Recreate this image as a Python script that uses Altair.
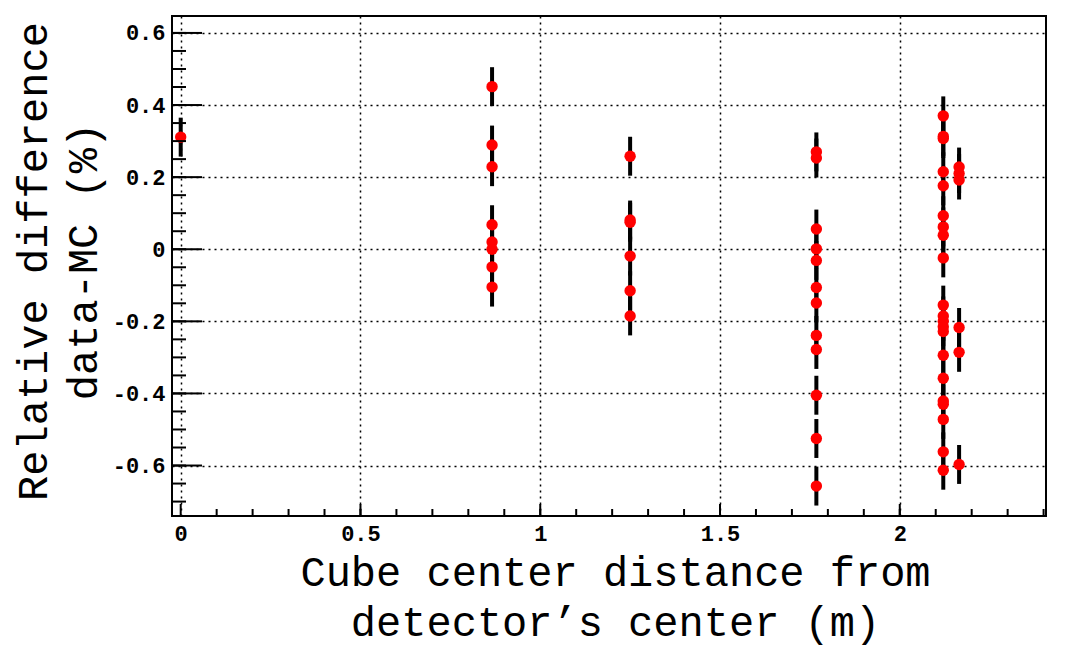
import altair as alt
import pandas as pd

# Cube centre distances (m) and the relative data-MC differences (%) measured at each
dist_0 = [0.311]
dist_0866 = [0.451, 0.289, 0.229, 0.068, 0.020, 0.000, -0.049, -0.105]
dist_125 = [0.258, 0.081, 0.075, -0.019, -0.115, -0.185]
dist_1768 = [0.270, 0.253, 0.056, 0.001, -0.031, -0.106, -0.149, -0.239,
             -0.278, -0.405, -0.525, -0.657]
dist_2121 = [0.370, 0.313, 0.307, 0.215, 0.176, 0.093, 0.062, 0.039, -0.024,
             -0.155, -0.185, -0.200, -0.215, -0.228, -0.294, -0.358, -0.421,
             -0.430, -0.472, -0.562, -0.613]
dist_2165 = [0.228, 0.210, 0.192, -0.217, -0.286, -0.597]

distances = [0.0, 0.866, 1.25, 1.768, 2.121, 2.165]
differences = [dist_0, dist_0866, dist_125, dist_1768, dist_2121, dist_2165]
uncertainty = 0.054  # statistical error on each difference (%)

x_labels = [0, 0.5, 1, 1.5, 2]
y_labels = [-0.6, -0.4, -0.2, 0, 0.2, 0.4, 0.6]
x_minor = [round(0.1 * i, 2) for i in range(1, 25)]
y_minor = [round(-0.70 + 0.05 * i, 2) for i in range(27)]

rows = []
for d, vals in zip(distances, differences):
    for v in vals:
        rows.append({"dist": d, "diff": v, "err": uncertainty})
df = pd.DataFrame(rows)

MONO = "Courier New, Liberation Mono, monospace"
xscale = alt.Scale(domain=[-0.0242, 2.4067], nice=False, zero=False)
yscale = alt.Scale(domain=[-0.740, 0.647], nice=False, zero=False)

xaxis = alt.Axis(
    values=x_labels, labelExpr="format(datum.value, '~g')",
    grid=True, gridDash=[2, 4], gridColor="black", gridWidth=1.5, gridOpacity=1,
    ticks=False, tickSize=0, domain=False, labelFlush=False,
    labelFont=MONO, labelFontSize=22, labelFontWeight="bold", labelColor="black",
    labelPadding=7,
    title=["Cube center distance from", "detector\u2019s center (m)"],
    titleFont=MONO, titleFontSize=42, titleFontWeight="normal", titleColor="black",
    titleLineHeight=50, titleX=443, titleY=69, titleAlign="center",
    titleBaseline="alphabetic",
)
yaxis = alt.Axis(
    values=y_labels,
    labelExpr="datum.value == 0 ? '0' : (datum.value < 0 ? '-' + format(-datum.value, '.1f') : format(datum.value, '.1f'))",
    grid=True, gridDash=[2, 4], gridColor="black", gridWidth=1.5, gridOpacity=1,
    ticks=False, tickSize=0, domain=False, labelFlush=False,
    labelFont=MONO, labelFontSize=22, labelFontWeight="bold", labelColor="black",
    labelPadding=7,
    title=["Relative difference", "data-MC (%)"],
    titleFont=MONO, titleFontSize=42, titleFontWeight="normal", titleColor="black",
    titleLineHeight=50, titleX=-139, titleY=245, titleAlign="center",
    titleBaseline="middle", titleAngle=-90,
)

base = alt.Chart(df)

errbars = base.mark_rule(color="black", strokeWidth=4).transform_calculate(
    lo="datum.diff - datum.err", hi="datum.diff + datum.err"
).encode(
    x=alt.X("dist:Q", scale=xscale, axis=xaxis),
    y=alt.Y("lo:Q", scale=yscale, axis=yaxis),
    y2="hi:Q",
)

points = base.mark_circle(color="#ff0000", size=130, opacity=1).encode(
    x=alt.X("dist:Q", scale=xscale, axis=xaxis),
    y=alt.Y("diff:Q", scale=yscale, axis=yaxis),
)

# inward-pointing tick marks along the left and bottom frame
def yticks(values, length):
    return alt.Chart(pd.DataFrame({"t": values})).mark_rule(
        color="black", strokeWidth=2
    ).encode(
        y=alt.Y("t:Q", scale=yscale, axis=yaxis),
        x=alt.value(0), x2=alt.value(length),
    )

def xticks(values, length):
    return alt.Chart(pd.DataFrame({"t": values})).mark_rule(
        color="black", strokeWidth=2
    ).encode(
        x=alt.X("t:Q", scale=xscale, axis=xaxis),
        y=alt.value(500), y2=alt.value(500 - length),
    )

chart = alt.layer(
    errbars, points,
    yticks(y_minor, 14), yticks(y_labels, 30),
    xticks(x_minor, 7), xticks(x_labels, 12),
).properties(
    width=874, height=500,
    autosize=alt.AutoSizeParams(type="none"),
    padding={"left": 172, "top": 16, "right": 25, "bottom": 133},
    background="white",
).configure_view(stroke="black", strokeWidth=2)

chart.save("out.html", embed_options={"renderer": "svg", "actions": False})
